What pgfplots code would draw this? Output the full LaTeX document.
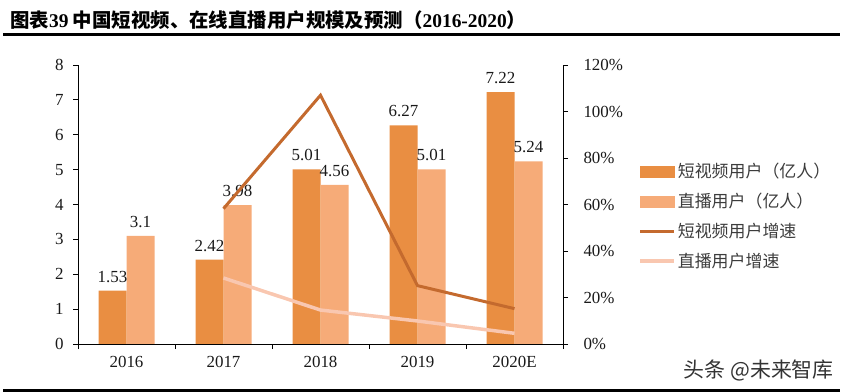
\documentclass[border=0pt]{standalone}
\usepackage{pgfplots}
\pgfplotsset{compat=1.18}
\usepackage{fontspec}
\setmainfont{Liberation Serif}
\newfontfamily\cjk{Noto Sans CJK SC}
\definecolor{barA}{RGB}{233,142,66}
\definecolor{barB}{RGB}{246,171,120}
\definecolor{lineA}{RGB}{196,106,46}
\definecolor{lineB}{RGB}{249,199,176}
\definecolor{txt}{RGB}{60,60,60}
\begin{document}
\begin{tikzpicture}
\useasboundingbox (0,0) rectangle (843bp,392bp);
\node[anchor=west, inner sep=0pt] at (10bp,372bp) {\fontsize{19.5}{19.5}\selectfont\bfseries\cjk 图表{\rmfamily\bfseries 39} 中国短视频、在线直播用户规模及预测（{\rmfamily\bfseries 2016-2020}）};
\draw[line width=3bp] (3bp,357bp) -- (840bp,357bp);
\draw[line width=3bp] (3bp,1.5bp) -- (840bp,1.5bp);
\node[anchor=east, inner sep=0pt, text=black!80] at (834bp,22bp) {\fontsize{21}{21}\selectfont\cjk 头条 @未来智库};
\begin{axis}[
  at={(78bp,48bp)}, anchor=south west,
  width=485bp, height=279bp, scale only axis,
  xmin=-0.5, xmax=4.5, ymin=0, ymax=8,
  axis x line*=bottom, axis y line*=left,
  axis line style={-, line width=0.8pt},
  x axis line style={shorten <=-5bp, shorten >=-5bp},
  ybar=0pt, bar width=28bp,
  xtick={0,1,2,3,4}, xticklabels={2016,2017,2018,2019,2020E},
  minor xtick={-0.5,0.5,1.5,2.5,3.5,4.5},
  major x tick style={draw=none},
  ytick={0,1,...,8},
  tick align=outside,
  major tick length=5bp, minor tick length=5bp,
  tick style={black, line width=0.8pt},
  /pgf/number format/assume math mode=true,
  tick label style={font=\fontsize{17}{17}\selectfont, text=black!90},
  yticklabel style={xshift=-6bp},
  xticklabel style={yshift=-4bp},
  nodes near coords,
  every node near coord/.append style={font=\fontsize{17}{17}\selectfont, text=black!90, /pgf/number format/assume math mode=true, inner sep=3bp, yshift=5bp},
  point meta=explicit symbolic,
]
\addplot[fill=barA, draw=none] coordinates {(0,1.53)[1.53] (1,2.42)[2.42] (2,5.01)[5.01] (3,6.27)[6.27] (4,7.22)[7.22]};
\addplot[fill=barB, draw=none] coordinates {(0,3.1)[3.1] (1,3.98)[3.98] (2,4.56)[4.56] (3,5.01)[5.01] (4,5.24)[5.24]};
\end{axis}
\begin{axis}[
  at={(78bp,48bp)}, anchor=south west,
  width=485bp, height=279bp, scale only axis,
  xmin=-0.5, xmax=4.5, ymin=0, ymax=120,
  axis x line=none, axis y line*=right,
  axis line style={-, line width=0.8pt},
  ytick={0,20,...,120},
  yticklabel={\pgfmathprintnumber{\tick}\%},
  tick align=outside, major tick length=5bp,
  tick style={black, line width=0.8pt},
  /pgf/number format/assume math mode=true,
  tick label style={font=\fontsize{17}{17}\selectfont, text=black!90},
  yticklabel style={xshift=12bp},
  legend style={draw=none, fill=none, at={(1.155,0.655)}, anchor=north west,
    font=\fontsize{17}{17}\selectfont\cjk, text=txt, row sep=10bp, inner sep=0pt},
  legend cell align=left,
]
\addlegendimage{legend image code/.code={\fill[barA] (0bp,-5.5bp) rectangle (34bp,5.5bp);}}
\addlegendentry{短视频用户（亿人）}
\addlegendimage{legend image code/.code={\fill[barB] (0bp,-5.5bp) rectangle (34bp,5.5bp);}}
\addlegendentry{直播用户（亿人）}
\addplot[lineA, line width=3bp, sharp plot, mark=none, legend image code/.code={\draw[lineA, line width=3bp] (0bp,0bp) -- (34bp,0bp);}] coordinates {(1,58.2) (2,107.0) (3,25.1) (4,15.2)};
\addlegendentry{短视频用户增速}
\addplot[lineB, line width=3.5bp, sharp plot, mark=none, legend image code/.code={\draw[lineB, line width=3.5bp] (0bp,0bp) -- (34bp,0bp);}] coordinates {(1,28.4) (2,14.6) (3,9.9) (4,4.6)};
\addlegendentry{直播用户增速}
\end{axis}
\end{tikzpicture}
\end{document}
